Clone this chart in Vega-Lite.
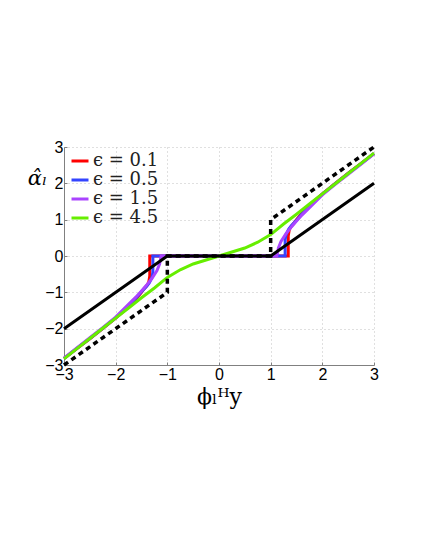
{
  "$schema": "https://vega.github.io/schema/vega-lite/v6.json",
  "autosize": {"type": "none"},
  "padding": {"left": 64, "top": 147, "right": 50, "bottom": 183},
  "width": 310,
  "height": 218,
  "background": "white",
  "config": {
    "view": {"stroke": null},
    "axis": {
      "labelFont": "Liberation Sans",
      "labelFontSize": 16,
      "labelColor": "black",
      "labelOverlap": false,
      "labelSeparation": 0,
      "domainColor": "#808080",
      "domainWidth": 1,
      "tickColor": "#808080",
      "tickSize": -3,
      "gridColor": "#c0c0c0",
      "gridDash": [1, 3],
      "gridWidth": 1,
      "titleFont": "DejaVu Serif",
      "titleFontWeight": "normal",
      "titleColor": "black"
    }
  },
  "datasets": {
    "curves": [
      {"s": "ϵ = 0.1", "i": 1, "x": -3, "y": -2.82},
      {"s": "ϵ = 0.1", "i": 2, "x": -2.75, "y": -2.55},
      {"s": "ϵ = 0.1", "i": 3, "x": -2.5, "y": -2.28},
      {"s": "ϵ = 0.1", "i": 4, "x": -2.25, "y": -2.0},
      {"s": "ϵ = 0.1", "i": 5, "x": -2, "y": -1.71},
      {"s": "ϵ = 0.1", "i": 6, "x": -1.8, "y": -1.46},
      {"s": "ϵ = 0.1", "i": 7, "x": -1.6, "y": -1.17},
      {"s": "ϵ = 0.1", "i": 8, "x": -1.5, "y": -1.0},
      {"s": "ϵ = 0.1", "i": 9, "x": -1.45, "y": -0.9},
      {"s": "ϵ = 0.1", "i": 10, "x": -1.4, "y": -0.82},
      {"s": "ϵ = 0.1", "i": 11, "x": -1.36, "y": -0.72},
      {"s": "ϵ = 0.1", "i": 12, "x": -1.34, "y": -0.55},
      {"s": "ϵ = 0.1", "i": 13, "x": -1.34, "y": 0},
      {"s": "ϵ = 0.1", "i": 14, "x": 1.34, "y": 0},
      {"s": "ϵ = 0.1", "i": 15, "x": 1.34, "y": 0.55},
      {"s": "ϵ = 0.1", "i": 16, "x": 1.36, "y": 0.72},
      {"s": "ϵ = 0.1", "i": 17, "x": 1.4, "y": 0.82},
      {"s": "ϵ = 0.1", "i": 18, "x": 1.45, "y": 0.9},
      {"s": "ϵ = 0.1", "i": 19, "x": 1.5, "y": 1.0},
      {"s": "ϵ = 0.1", "i": 20, "x": 1.6, "y": 1.17},
      {"s": "ϵ = 0.1", "i": 21, "x": 1.8, "y": 1.46},
      {"s": "ϵ = 0.1", "i": 22, "x": 2, "y": 1.71},
      {"s": "ϵ = 0.1", "i": 23, "x": 2.25, "y": 2.0},
      {"s": "ϵ = 0.1", "i": 24, "x": 2.5, "y": 2.28},
      {"s": "ϵ = 0.1", "i": 25, "x": 2.75, "y": 2.55},
      {"s": "ϵ = 0.1", "i": 26, "x": 3, "y": 2.82},

      {"s": "ϵ = 0.5", "i": 1, "x": -3, "y": -2.82},
      {"s": "ϵ = 0.5", "i": 2, "x": -2.75, "y": -2.54},
      {"s": "ϵ = 0.5", "i": 3, "x": -2.5, "y": -2.27},
      {"s": "ϵ = 0.5", "i": 4, "x": -2.25, "y": -1.99},
      {"s": "ϵ = 0.5", "i": 5, "x": -2, "y": -1.7},
      {"s": "ϵ = 0.5", "i": 6, "x": -1.8, "y": -1.44},
      {"s": "ϵ = 0.5", "i": 7, "x": -1.6, "y": -1.15},
      {"s": "ϵ = 0.5", "i": 8, "x": -1.5, "y": -0.98},
      {"s": "ϵ = 0.5", "i": 9, "x": -1.4, "y": -0.83},
      {"s": "ϵ = 0.5", "i": 10, "x": -1.35, "y": -0.74},
      {"s": "ϵ = 0.5", "i": 11, "x": -1.3, "y": -0.6},
      {"s": "ϵ = 0.5", "i": 12, "x": -1.28, "y": -0.45},
      {"s": "ϵ = 0.5", "i": 13, "x": -1.28, "y": 0},
      {"s": "ϵ = 0.5", "i": 14, "x": 1.28, "y": 0},
      {"s": "ϵ = 0.5", "i": 15, "x": 1.28, "y": 0.45},
      {"s": "ϵ = 0.5", "i": 16, "x": 1.3, "y": 0.6},
      {"s": "ϵ = 0.5", "i": 17, "x": 1.35, "y": 0.74},
      {"s": "ϵ = 0.5", "i": 18, "x": 1.4, "y": 0.83},
      {"s": "ϵ = 0.5", "i": 19, "x": 1.5, "y": 0.98},
      {"s": "ϵ = 0.5", "i": 20, "x": 1.6, "y": 1.15},
      {"s": "ϵ = 0.5", "i": 21, "x": 1.8, "y": 1.44},
      {"s": "ϵ = 0.5", "i": 22, "x": 2, "y": 1.7},
      {"s": "ϵ = 0.5", "i": 23, "x": 2.25, "y": 1.99},
      {"s": "ϵ = 0.5", "i": 24, "x": 2.5, "y": 2.27},
      {"s": "ϵ = 0.5", "i": 25, "x": 2.75, "y": 2.54},
      {"s": "ϵ = 0.5", "i": 26, "x": 3, "y": 2.82},

      {"s": "ϵ = 1.5", "i": 1, "x": -3, "y": -2.81},
      {"s": "ϵ = 1.5", "i": 2, "x": -2.75, "y": -2.53},
      {"s": "ϵ = 1.5", "i": 3, "x": -2.5, "y": -2.25},
      {"s": "ϵ = 1.5", "i": 4, "x": -2.25, "y": -1.97},
      {"s": "ϵ = 1.5", "i": 5, "x": -2, "y": -1.68},
      {"s": "ϵ = 1.5", "i": 6, "x": -1.8, "y": -1.4},
      {"s": "ϵ = 1.5", "i": 7, "x": -1.6, "y": -1.12},
      {"s": "ϵ = 1.5", "i": 8, "x": -1.5, "y": -0.96},
      {"s": "ϵ = 1.5", "i": 9, "x": -1.4, "y": -0.8},
      {"s": "ϵ = 1.5", "i": 10, "x": -1.3, "y": -0.62},
      {"s": "ϵ = 1.5", "i": 11, "x": -1.2, "y": -0.4},
      {"s": "ϵ = 1.5", "i": 12, "x": -1.15, "y": -0.22},
      {"s": "ϵ = 1.5", "i": 13, "x": -1.12, "y": 0},
      {"s": "ϵ = 1.5", "i": 14, "x": 1.12, "y": 0},
      {"s": "ϵ = 1.5", "i": 15, "x": 1.15, "y": 0.22},
      {"s": "ϵ = 1.5", "i": 16, "x": 1.2, "y": 0.4},
      {"s": "ϵ = 1.5", "i": 17, "x": 1.3, "y": 0.62},
      {"s": "ϵ = 1.5", "i": 18, "x": 1.4, "y": 0.8},
      {"s": "ϵ = 1.5", "i": 19, "x": 1.5, "y": 0.96},
      {"s": "ϵ = 1.5", "i": 20, "x": 1.6, "y": 1.12},
      {"s": "ϵ = 1.5", "i": 21, "x": 1.8, "y": 1.4},
      {"s": "ϵ = 1.5", "i": 22, "x": 2, "y": 1.68},
      {"s": "ϵ = 1.5", "i": 23, "x": 2.25, "y": 1.97},
      {"s": "ϵ = 1.5", "i": 24, "x": 2.5, "y": 2.25},
      {"s": "ϵ = 1.5", "i": 25, "x": 2.75, "y": 2.53},
      {"s": "ϵ = 1.5", "i": 26, "x": 3, "y": 2.81},

      {"s": "ϵ = 4.5", "i": 1, "x": -3, "y": -2.83},
      {"s": "ϵ = 4.5", "i": 2, "x": -2.75, "y": -2.55},
      {"s": "ϵ = 4.5", "i": 3, "x": -2.5, "y": -2.27},
      {"s": "ϵ = 4.5", "i": 4, "x": -2.25, "y": -1.99},
      {"s": "ϵ = 4.5", "i": 5, "x": -2, "y": -1.71},
      {"s": "ϵ = 4.5", "i": 6, "x": -1.75, "y": -1.43},
      {"s": "ϵ = 4.5", "i": 7, "x": -1.5, "y": -1.15},
      {"s": "ϵ = 4.5", "i": 8, "x": -1.25, "y": -0.88},
      {"s": "ϵ = 4.5", "i": 9, "x": -1, "y": -0.59},
      {"s": "ϵ = 4.5", "i": 10, "x": -0.75, "y": -0.38},
      {"s": "ϵ = 4.5", "i": 11, "x": -0.5, "y": -0.22},
      {"s": "ϵ = 4.5", "i": 12, "x": -0.25, "y": -0.11},
      {"s": "ϵ = 4.5", "i": 13, "x": 0, "y": 0},
      {"s": "ϵ = 4.5", "i": 14, "x": 0.25, "y": 0.11},
      {"s": "ϵ = 4.5", "i": 15, "x": 0.5, "y": 0.22},
      {"s": "ϵ = 4.5", "i": 16, "x": 0.75, "y": 0.38},
      {"s": "ϵ = 4.5", "i": 17, "x": 1, "y": 0.59},
      {"s": "ϵ = 4.5", "i": 18, "x": 1.25, "y": 0.88},
      {"s": "ϵ = 4.5", "i": 19, "x": 1.5, "y": 1.15},
      {"s": "ϵ = 4.5", "i": 20, "x": 1.75, "y": 1.43},
      {"s": "ϵ = 4.5", "i": 21, "x": 2, "y": 1.71},
      {"s": "ϵ = 4.5", "i": 22, "x": 2.25, "y": 1.99},
      {"s": "ϵ = 4.5", "i": 23, "x": 2.5, "y": 2.27},
      {"s": "ϵ = 4.5", "i": 24, "x": 2.75, "y": 2.55},
      {"s": "ϵ = 4.5", "i": 25, "x": 3, "y": 2.83}
    ],
    "soft": [
      {"i": 1, "x": -3, "y": -2},
      {"i": 2, "x": -1, "y": 0},
      {"i": 3, "x": 1, "y": 0},
      {"i": 4, "x": 3, "y": 2}
    ],
    "hard": [
      {"i": 1, "x": -3, "y": -3},
      {"i": 2, "x": -1, "y": -1},
      {"i": 3, "x": -1, "y": 0},
      {"i": 4, "x": 1, "y": 0},
      {"i": 5, "x": 1, "y": 1},
      {"i": 6, "x": 3, "y": 3}
    ]
  },
  "encoding": {
    "x": {
      "field": "x", "type": "quantitative",
      "scale": {"domain": [-3, 3], "nice": false},
      "axis": {
        "values": [-3, -2, -1, 0, 1, 2, 3],
        "title": "ϕₗᴴy",
        "titleFontSize": 22,
        "titlePadding": 4,
        "labelPadding": 4,
        "labelFlush": false,
        "labelOverlap": false
      }
    },
    "y": {
      "field": "y", "type": "quantitative",
      "scale": {"domain": [-3, 3], "nice": false},
      "axis": {
        "values": [-3, -2, -1, 0, 1, 2, 3],
        "title": "α̂ₗ",
        "titleFontSize": 21,
        "titleFontStyle": "italic",
        "titleAngle": 0,
        "titleX": -27,
        "titleY": 31,
        "titleAlign": "center",
        "titleBaseline": "middle",
        "labelPadding": 4,
        "labelFlush": false,
        "labelOverlap": false
      }
    },
    "order": {"field": "i", "type": "quantitative"}
  },
  "layer": [
    {
      "data": {"name": "curves"},
      "mark": {"type": "line", "strokeWidth": 3, "strokeCap": "butt"},
      "encoding": {
        "color": {
          "field": "s", "type": "nominal",
          "scale": {
            "domain": ["ϵ = 0.1", "ϵ = 0.5", "ϵ = 1.5", "ϵ = 4.5"],
            "range": ["#ff0000", "#3344ff", "#aa44ff", "#66ee00"]
          },
          "legend": {
            "title": null,
            "orient": "none",
            "legendX": 6,
            "legendY": 4,
            "symbolType": "stroke",
            "symbolSize": 289,
            "symbolStrokeWidth": 3,
            "labelFont": "DejaVu Serif",
            "labelFontSize": 18,
            "labelColor": "#222222",
            "labelOffset": 3,
            "rowPadding": 0,
            "padding": 0,
            "fillColor": null,
            "strokeColor": null
          }
        }
      }
    },
    {
      "data": {"name": "soft"},
      "mark": {"type": "line", "strokeWidth": 3, "color": "black"}
    },
    {
      "data": {"name": "hard"},
      "mark": {"type": "line", "strokeWidth": 3.5, "color": "black", "strokeDash": [5, 4], "strokeCap": "butt"}
    }
  ]
}
